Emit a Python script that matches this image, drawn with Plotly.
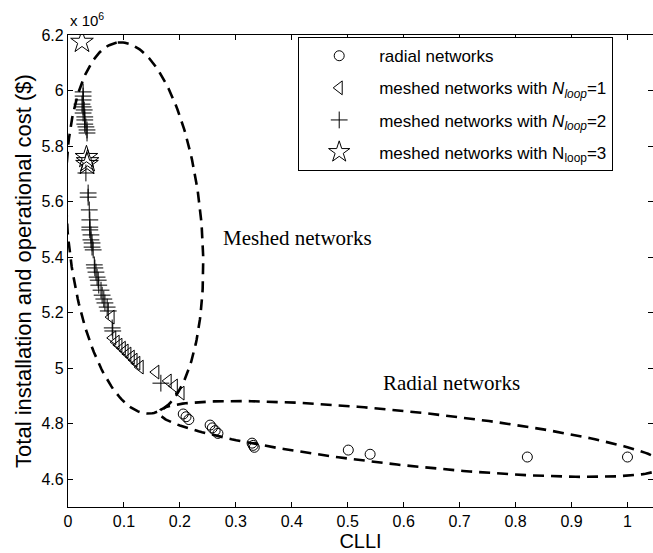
import numpy as np
import plotly.graph_objects as go

# CLLI vs. total installation and operational cost (x 10^6 $)
radial_x = [0.206, 0.211, 0.216, 0.254, 0.258, 0.263, 0.268, 0.329, 0.331, 0.333,
            0.501, 0.540, 0.821, 1.000]
radial_y = [4.835, 4.825, 4.815, 4.795, 4.785, 4.775, 4.765, 4.730, 4.722, 4.715,
            4.705, 4.690, 4.680, 4.680]

loop1_x = [0.077, 0.080, 0.086, 0.091, 0.097, 0.102, 0.107, 0.113, 0.118, 0.123,
           0.129, 0.157, 0.179, 0.190, 0.202]
loop1_y = [5.184, 5.109, 5.094, 5.083, 5.072, 5.062, 5.051, 5.040, 5.029, 5.018,
           5.004, 4.986, 4.954, 4.936, 4.910]

loop2_x = [0.027, 0.027, 0.027, 0.025, 0.027, 0.029, 0.027, 0.030, 0.030, 0.030,
           0.032, 0.034, 0.034, 0.032, 0.036, 0.036, 0.038, 0.039, 0.039, 0.039,
           0.041, 0.041, 0.043, 0.043, 0.045, 0.047, 0.048, 0.050, 0.052, 0.054,
           0.055, 0.059, 0.061, 0.064, 0.066, 0.070, 0.072, 0.079, 0.080, 0.166]
loop2_y = [5.995, 5.980, 5.966, 5.951, 5.941, 5.930, 5.919, 5.905, 5.894, 5.879,
           5.869, 5.858, 5.847, 5.703, 5.631, 5.616, 5.570, 5.534, 5.508, 5.498,
           5.480, 5.462, 5.451, 5.436, 5.426, 5.372, 5.361, 5.346, 5.328, 5.317,
           5.299, 5.281, 5.263, 5.249, 5.235, 5.220, 5.206, 5.145, 5.134, 4.946]

loop3_x = [0.025, 0.033, 0.035, 0.034]
loop3_y = [6.175, 5.760, 5.745, 5.735]

x_ticks = [0, 0.1, 0.2, 0.3, 0.4, 0.5, 0.6, 0.7, 0.8, 0.9, 1]
y_ticks = [4.6, 4.8, 5.0, 5.2, 5.4, 5.6, 5.8, 6.0, 6.2]
y_tick_text = ["4.6", "4.8", "5", "5.2", "5.4", "5.6", "5.8", "6", "6.2"]

# Dashed grouping ellipses: centre plus two conjugate half-axes (data units)
meshed_ellipse = dict(c=(0.1190, 5.505), u=(-0.0300, 0.668), v=(0.1190, 0.0290))
radial_ellipse = dict(c=(0.6150, 4.745), u=(0.4520, -0.0950), v=(0.0, 0.0980))


def ellipse_path(e, n=240):
    t = np.linspace(0, 2 * np.pi, n)
    x = e["c"][0] + e["u"][0] * np.cos(t) + e["v"][0] * np.sin(t)
    y = e["c"][1] + e["u"][1] * np.cos(t) + e["v"][1] * np.sin(t)
    return x, y


FONT = "Liberation Sans, Arial, sans-serif"
SERIF = "Liberation Serif, Times New Roman, serif"

fig = go.Figure()

for e in (meshed_ellipse, radial_ellipse):
    ex, ey = ellipse_path(e)
    fig.add_trace(go.Scatter(x=ex, y=ey, mode="lines", showlegend=False,
                             hoverinfo="skip",
                             line=dict(color="black", width=2.6, dash="11px,7px")))

marker_line = dict(color="black", width=1)
fig.add_trace(go.Scatter(
    x=radial_x, y=radial_y, mode="markers", name="radial networks",
    legendgroup="a",
    marker=dict(symbol="circle-open", size=10, color="black", line=marker_line)))
fig.add_trace(go.Scatter(
    x=loop1_x, y=loop1_y, mode="markers", legendgroup="b",
    name="meshed networks with <i>N</i><sub><i>loop</i></sub>=1",
    marker=dict(symbol="triangle-left-open", size=12, color="black", line=marker_line)))
fig.add_trace(go.Scatter(
    x=loop2_x, y=loop2_y, mode="markers", legendgroup="c",
    name="meshed networks with <i>N</i><sub><i>loop</i></sub>=2",
    marker=dict(symbol="cross-thin-open", size=12, color="black", line=marker_line)))
fig.add_trace(go.Scatter(
    x=loop3_x, y=loop3_y, mode="markers", legendgroup="d",
    name="meshed networks with N<sub>loop</sub>=3",
    marker=dict(symbol="star-open", size=17, color="black", line=marker_line)))

axis_common = dict(
    showline=True, linecolor="black", linewidth=1.3, mirror="ticks",
    ticks="inside", ticklen=5, tickcolor="black", showgrid=False, zeroline=False,
    tickfont=dict(family=FONT, size=16, color="black"),
)

fig.update_layout(
    width=653, height=553,
    margin=dict(l=68, r=0, t=35, b=46),
    paper_bgcolor="white", plot_bgcolor="white",
    font=dict(family=FONT, color="black"),
    xaxis=dict(range=[0, 1.0456], tickvals=x_ticks,
               title=dict(text="CLLI", font=dict(size=20), standoff=4),
               **axis_common),
    yaxis=dict(range=[4.5, 6.2], tickvals=y_ticks, ticktext=y_tick_text,
               title=dict(text="Total installation and operational cost ($)",
                          font=dict(size=22), standoff=3),
               **axis_common),
    legend=dict(x=0.393, y=0.996, xanchor="left", yanchor="top",
                bgcolor="white", bordercolor="black", borderwidth=1.3,
                font=dict(family=FONT, size=17, color="black"),
                itemwidth=70, tracegroupgap=7, traceorder="grouped"),
    annotations=[
        dict(text="x 10<sup>6</sup>", xref="paper", yref="paper", x=0, y=1,
             xanchor="left", yanchor="bottom", yshift=4, showarrow=False,
             font=dict(family=FONT, size=15, color="black")),
        dict(text="Meshed networks", x=0.411, y=5.47, showarrow=False,
             font=dict(family=SERIF, size=21, color="black")),
        dict(text="Radial networks", x=0.685, y=4.947, showarrow=False,
             font=dict(family=SERIF, size=21, color="black")),
    ],
)

fig.write_html("out.html")
